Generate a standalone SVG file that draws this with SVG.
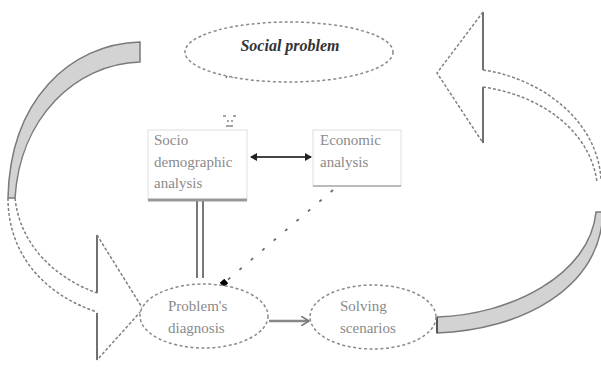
<svg xmlns="http://www.w3.org/2000/svg" width="601" height="374" viewBox="0 0 601 374">
<style>
.dash{fill:none;stroke:#808080;stroke-width:1.5;stroke-dasharray:3,2}
.solid{fill:none;stroke:#707070;stroke-width:2}
.band{fill:#d3d3d3;stroke:#7a7a7a;stroke-width:1.5}
.node{fill:#fff;stroke:#8a8a8a;stroke-width:1.5;stroke-dasharray:3,2.5}
.box{fill:#fff;stroke:#e0e0e0;stroke-width:1}
.shadow{stroke:#999;stroke-width:3}
.t{font-family:"Liberation Serif",serif;font-size:15px;fill:#8a8a8a}
.title{font-family:"Liberation Serif",serif;font-size:16px;font-weight:bold;font-style:italic;fill:#333}
</style>
<defs>
<marker id="ah" markerWidth="8" markerHeight="8" refX="6" refY="4" orient="auto" markerUnits="userSpaceOnUse">
<path d="M0,0 L7,4 L0,8 Z" fill="#222"/>
</marker>
<marker id="ahs" markerWidth="8" markerHeight="8" refX="6" refY="4" orient="auto-start-reverse" markerUnits="userSpaceOnUse">
<path d="M0,0 L7,4 L0,8 Z" fill="#222"/>
</marker>
<marker id="sq" markerWidth="6" markerHeight="6" refX="3" refY="3" orient="auto" markerUnits="userSpaceOnUse">
<rect x="0" y="0" width="6" height="6" fill="#000"/>
</marker>
<marker id="open" markerWidth="10" markerHeight="10" refX="8" refY="5" orient="auto" markerUnits="userSpaceOnUse">
<path d="M0,0 L8,5 L0,10" fill="none" stroke="#777" stroke-width="1.5"/>
</marker>
</defs>

<g id="left-cycle-arrow">
<path class="band" d="M140,42 C70,44 10,100 8,198 L15,198 C20,118 75,64 140,62 Z"/>
<path class="dash" d="M8,198 C8,255 45,295 97,312"/>
<path class="dash" d="M15,198 C20,245 55,278 97,293"/>
<path class="solid" d="M97,235 V293 M97,313 V360"/>
<path class="dash" d="M97,235 L143,309 L97,360"/>
</g>

<g id="right-cycle-arrow">
<path class="solid" d="M483,12 V70 M483,87 V143"/>
<path class="dash" d="M483,12 L437,73 L483,143"/>
<path class="dash" d="M483,70 C540,78 598,120 601,180"/>
<path class="dash" d="M483,87 C540,95 590,130 597,182"/>
<path class="band" d="M603,212 C600,290 520,330 437,333 L437,317 C510,315 590,275 596,212 Z"/>
<path d="M437,317 V333" stroke="#555" stroke-width="2"/>
</g>

<g id="connectors">
<path d="M226,78 L229,73 L233,78" fill="none" stroke="#666" stroke-width="1.2"/>
<path d="M223,116 h3 M233,116 h3 M227,121 h2 M231,121 h2 M226,126 h7" stroke="#888" stroke-width="1.5"/>
<line x1="251" y1="157" x2="311" y2="157" stroke="#444" stroke-width="2" marker-start="url(#ahs)" marker-end="url(#ah)"/>
<path d="M197,201 V278 M203,201 V278" stroke="#6a6a6a" stroke-width="1.8"/>
<line x1="333" y1="190" x2="224" y2="283" stroke="#6a6a6a" stroke-width="1.8" stroke-dasharray="3,12" marker-end="url(#sq)"/>
<line x1="269" y1="321" x2="309" y2="321" stroke="#888" stroke-width="2.5" marker-end="url(#open)"/>
</g>

<g id="social-problem">
<ellipse class="node" cx="289" cy="52" rx="104" ry="30"/>
<text class="title" x="290" y="51" text-anchor="middle">Social problem</text>
</g>

<g id="socio-demographic">
<rect class="box" x="148" y="130" width="99" height="70"/>
<line class="shadow" x1="148" y1="200" x2="247" y2="200"/>
<text class="t" x="154" y="145">Socio</text>
<text class="t" x="154" y="167">demographic</text>
<text class="t" x="154" y="188">analysis</text>
</g>

<g id="economic">
<rect class="box" x="313" y="130" width="88" height="56"/>
<line x1="313" y1="186" x2="401" y2="186" stroke="#aaa" stroke-width="1.5"/>
<text class="t" x="320" y="145">Economic</text>
<text class="t" x="320" y="167">analysis</text>
</g>

<g id="problems-diagnosis">
<ellipse class="node" cx="204" cy="316" rx="64" ry="32"/>
<text class="t" x="168" y="311" font-size="14">Problem's</text>
<text class="t" x="168" y="333" font-size="14">diagnosis</text>
</g>

<g id="solving-scenarios">
<ellipse class="node" cx="373" cy="317" rx="63" ry="32"/>
<text class="t" x="340" y="311" font-size="14">Solving</text>
<text class="t" x="340" y="333" font-size="14">scenarios</text>
</g>
</svg>
